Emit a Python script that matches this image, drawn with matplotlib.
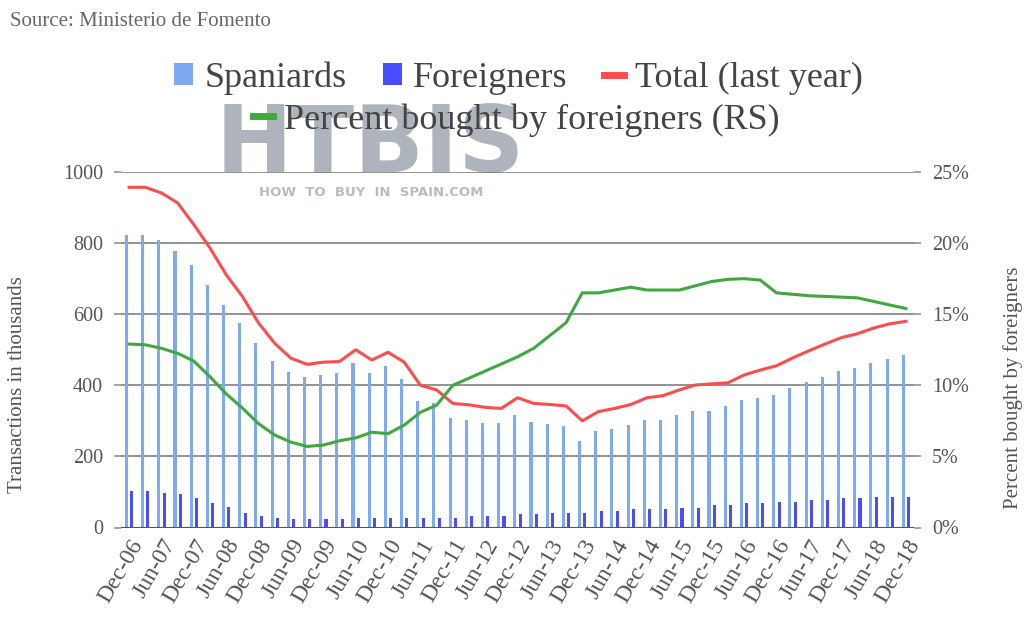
import matplotlib
matplotlib.use("Agg")
import matplotlib.pyplot as plt
from matplotlib.patches import Patch
from matplotlib.lines import Line2D
import numpy as np

# ---------------- data ----------------
spaniards = [823, 823, 809, 779, 738, 683, 626, 576, 519, 469, 438, 423, 428, 434, 464, 434,
             453, 418, 357, 351, 307, 301, 293, 293, 316, 296, 291, 286, 244, 271, 278, 288,
             302, 302, 316, 329, 329, 342, 359, 363, 373, 392, 408, 424, 440, 448, 464, 473, 485]
foreigners = [102, 102, 98, 93, 84, 68, 57, 41, 32, 27, 23, 23, 23, 23, 27, 27,
              27, 27, 27, 27, 27, 32, 32, 32, 37, 37, 41, 41, 41, 46, 46, 52,
              52, 52, 56, 56, 63, 63, 68, 68, 72, 72, 77, 77, 82, 82, 86, 86, 86]
total_last_year = [957, 957, 941, 913, 852, 786, 711, 650, 575, 518, 476, 459, 465, 467, 500, 471,
                   493, 465, 400, 387, 349, 345, 338, 335, 365, 349, 346, 342, 300, 326, 335, 346,
                   365, 371, 387, 401, 404, 407, 429, 443, 455, 477, 497, 516, 534, 545, 561, 573, 580]
pct_foreigners = [12.9, 12.85, 12.6, 12.25, 11.7, 10.6, 9.4, 8.4, 7.3, 6.5, 6.0, 5.7, 5.8, 6.1, 6.3, 6.7,
                  6.6, 7.2, 8.1, 8.6, 10.0, 10.5, 11.0, 11.5, 12.0, 12.6, 13.5, 14.4, 16.5, 16.5, 16.7, 16.9,
                  16.7, 16.7, 16.7, 17.0, 17.3, 17.45, 17.5, 17.4, 16.5, 16.4, 16.3, 16.25, 16.2, 16.15, 15.9, 15.65, 15.4]
tick_labels = ["Dec-06", "Jun-07", "Dec-07", "Jun-08", "Dec-08", "Jun-09", "Dec-09", "Jun-10",
               "Dec-10", "Jun-11", "Dec-11", "Jun-12", "Dec-12", "Jun-13", "Dec-13", "Jun-14",
               "Dec-14", "Jun-15", "Dec-15", "Jun-16", "Dec-16", "Jun-17", "Dec-17", "Jun-18", "Dec-18"]
left_ticks = [0, 200, 400, 600, 800, 1000]
right_ticks = [0, 5, 10, 15, 20, 25]

# ---------------- styling ----------------
SERIF = ["Liberation Serif", "DejaVu Serif"]
C_SPA = "#7eaaf3"
C_FOR = "#4b4bff"
C_TOT = "#ff4d4d"
C_PCT = "#3fa83f"
TXT = "#555555"
GRID = "#8a8a8a"

plt.rcParams["font.family"] = SERIF

W, H = 1027, 619
fig = plt.figure(figsize=(W / 100, H / 100), dpi=100)
left, right = 121 / W, 914 / W
bottom, top = (H - 527.5) / H, (H - 172) / H
ax = fig.add_axes([left, bottom, right - left, top - bottom])
ax2 = ax.twinx()

n = len(spaniards)
x = np.arange(n)
bw = 0.19
ax.bar(x - 0.165, spaniards, width=bw, color=C_SPA, zorder=2)
ax.bar(x + 0.165, foreigners, width=bw, color=C_FOR, zorder=2)
ax.plot(x, total_last_year, color=C_TOT, lw=2.2, zorder=3)
ax2.plot(x, pct_foreigners, color=C_PCT, lw=2.2, zorder=3)

ax.set_xlim(-0.5, n - 0.5)
ax.set_ylim(0, 1000)
ax2.set_ylim(0, 25)

ax.set_yticks(left_ticks)
ax.set_yticklabels([str(v) for v in left_ticks])
ax2.set_yticks(right_ticks)
ax2.set_yticklabels([f"{v}%" for v in right_ticks])

ax.set_xticks(x[::2])
ax.set_xticklabels(tick_labels, rotation=60, ha="right", rotation_mode="anchor",
                   fontsize=17, color=TXT)
ax.tick_params(axis="x", length=0, pad=6)
ax.tick_params(axis="y", length=5, width=1.1, color=GRID, labelsize=14.5, labelcolor=TXT, pad=8)
ax2.tick_params(axis="y", length=5, width=1.1, color=GRID, labelsize=14.5, labelcolor=TXT, pad=8)

ax.yaxis.grid(True, color=GRID, lw=1.3, zorder=0)
ax.set_axisbelow(True)
for a in (ax, ax2):
    for s in ("top", "left", "right", "bottom"):
        a.spines[s].set_visible(False)
ax.axhline(0, color="#555555", lw=1.5, zorder=4)

# axis titles
fig.text(18 / W, 1 - 385 / H, "Transactions in thousands", rotation=90, ha="center",
         va="center", fontsize=15, color=TXT)
fig.text(1013 / W, 1 - 388 / H, "Percent bought by foreigners", rotation=90, ha="center",
         va="center", fontsize=15, color=TXT)

# source
fig.text(10 / W, 1 - 22 / H, "Source: Ministerio de Fomento", ha="left", va="center",
         fontsize=15, color="#666666")

# watermark (behind legend, above axes)
fig.text(370 / W, 1 - 146 / H, "HTBIS", ha="center", va="center", fontsize=66,
         fontweight="bold", family="DejaVu Sans", color="#5d6b78", alpha=0.5, zorder=2)
fig.text(371 / W, 1 - 193 / H, "HOW  TO  BUY  IN  SPAIN.COM", ha="center", va="center",
         fontsize=9.5, fontweight="bold", family="DejaVu Sans", color="#5d6b78", alpha=0.45, zorder=2)

# legends
h1 = [Patch(facecolor=C_SPA, edgecolor="none"),
      Patch(facecolor=C_FOR, edgecolor="none"),
      Line2D([0], [0], color=C_TOT, lw=5)]
leg1 = fig.legend(h1, ["Spaniards", "Foreigners", "Total (last year)"], loc="center",
                  bbox_to_anchor=(518 / W, 1 - 78 / H), ncol=3, frameon=False,
                  fontsize=26, handlelength=0.55, handleheight=0.55, handletextpad=0.3,
                  columnspacing=1.0, labelcolor="#444444")
leg1.set_zorder(6)
h2 = [Line2D([0], [0], color=C_PCT, lw=5)]
leg2 = fig.legend(h2, ["Percent bought by foreigners (RS)"], loc="center",
                  bbox_to_anchor=(516 / W, 1 - 120 / H), frameon=False,
                  fontsize=26, handlelength=0.55, handletextpad=0.3, labelcolor="#444444")
leg2.set_zorder(6)

fig.savefig("out.png", dpi=100)
